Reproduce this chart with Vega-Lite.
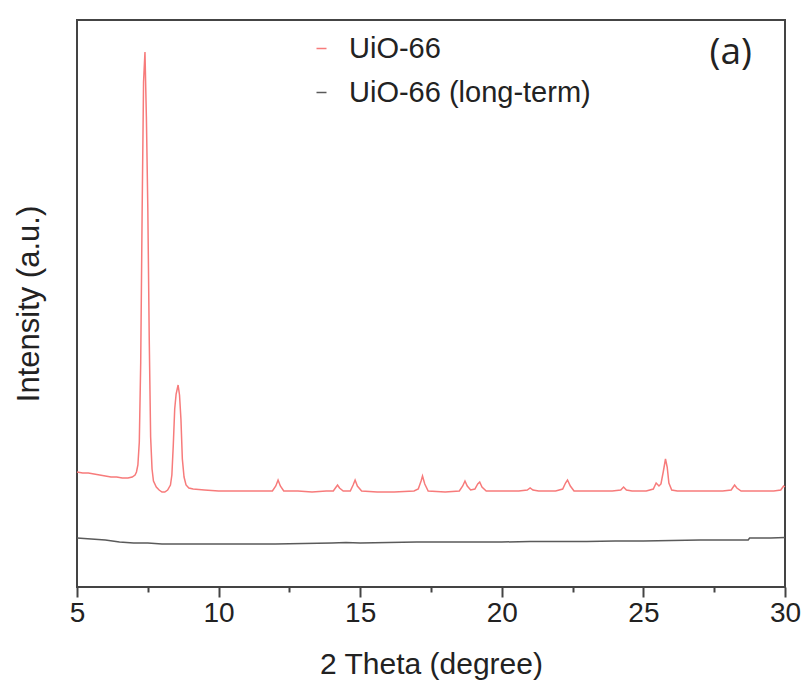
{
  "$schema": "https://vega.github.io/schema/vega-lite/v6.json",
  "width": 708,
  "height": 567,
  "autosize": {"type": "none"},
  "padding": {"left": 77, "top": 20, "right": 20, "bottom": 105},
  "background": "white",
  "title": {"text": "(a)", "anchor": "end", "orient": "top", "frame": "group", "offset": -52, "dx": -33, "font": "Open Sans", "fontSize": 37, "fontWeight": "normal", "color": "#222"},
  "config": {
    "view": {"stroke": "#444", "strokeWidth": 2},
    "axis": {"labelFont": "Liberation Sans", "titleFont": "Liberation Sans", "labelColor": "#222", "titleColor": "#222", "grid": false, "domainColor": "#444", "tickColor": "#444", "tickWidth": 2, "titleFontWeight": "normal"}
  },
  "data": {
    "values": [
      {"s": "UiO-66", "t": 5.0, "i": 115}, {"s": "UiO-66", "t": 5.2, "i": 114}, {"s": "UiO-66", "t": 5.4, "i": 114}, {"s": "UiO-66", "t": 5.6, "i": 113},
      {"s": "UiO-66", "t": 5.8, "i": 112}, {"s": "UiO-66", "t": 6.0, "i": 111}, {"s": "UiO-66", "t": 6.2, "i": 110}, {"s": "UiO-66", "t": 6.4, "i": 110},
      {"s": "UiO-66", "t": 6.6, "i": 109}, {"s": "UiO-66", "t": 6.8, "i": 109}, {"s": "UiO-66", "t": 6.95, "i": 110}, {"s": "UiO-66", "t": 7.05, "i": 112},
      {"s": "UiO-66", "t": 7.1, "i": 115}, {"s": "UiO-66", "t": 7.15, "i": 122}, {"s": "UiO-66", "t": 7.2, "i": 145}, {"s": "UiO-66", "t": 7.25, "i": 225},
      {"s": "UiO-66", "t": 7.3, "i": 375}, {"s": "UiO-66", "t": 7.35, "i": 505}, {"s": "UiO-66", "t": 7.4, "i": 535}, {"s": "UiO-66", "t": 7.45, "i": 470},
      {"s": "UiO-66", "t": 7.5, "i": 380}, {"s": "UiO-66", "t": 7.55, "i": 250}, {"s": "UiO-66", "t": 7.6, "i": 150}, {"s": "UiO-66", "t": 7.65, "i": 118},
      {"s": "UiO-66", "t": 7.7, "i": 106}, {"s": "UiO-66", "t": 7.8, "i": 100}, {"s": "UiO-66", "t": 7.9, "i": 97}, {"s": "UiO-66", "t": 8.0, "i": 95},
      {"s": "UiO-66", "t": 8.1, "i": 95}, {"s": "UiO-66", "t": 8.2, "i": 97}, {"s": "UiO-66", "t": 8.3, "i": 102}, {"s": "UiO-66", "t": 8.35, "i": 112},
      {"s": "UiO-66", "t": 8.4, "i": 142}, {"s": "UiO-66", "t": 8.45, "i": 178}, {"s": "UiO-66", "t": 8.5, "i": 193}, {"s": "UiO-66", "t": 8.57, "i": 202},
      {"s": "UiO-66", "t": 8.62, "i": 192}, {"s": "UiO-66", "t": 8.67, "i": 168}, {"s": "UiO-66", "t": 8.72, "i": 128}, {"s": "UiO-66", "t": 8.78, "i": 110},
      {"s": "UiO-66", "t": 8.85, "i": 102}, {"s": "UiO-66", "t": 8.95, "i": 99}, {"s": "UiO-66", "t": 9.1, "i": 98}, {"s": "UiO-66", "t": 9.5, "i": 97},
      {"s": "UiO-66", "t": 10.0, "i": 96}, {"s": "UiO-66", "t": 10.5, "i": 96}, {"s": "UiO-66", "t": 11.0, "i": 96}, {"s": "UiO-66", "t": 11.5, "i": 96},
      {"s": "UiO-66", "t": 11.9, "i": 96}, {"s": "UiO-66", "t": 12.02, "i": 101}, {"s": "UiO-66", "t": 12.1, "i": 107}, {"s": "UiO-66", "t": 12.18, "i": 101},
      {"s": "UiO-66", "t": 12.3, "i": 96}, {"s": "UiO-66", "t": 12.8, "i": 96}, {"s": "UiO-66", "t": 13.3, "i": 95}, {"s": "UiO-66", "t": 13.8, "i": 96},
      {"s": "UiO-66", "t": 14.05, "i": 96}, {"s": "UiO-66", "t": 14.15, "i": 100}, {"s": "UiO-66", "t": 14.2, "i": 102}, {"s": "UiO-66", "t": 14.27, "i": 99},
      {"s": "UiO-66", "t": 14.4, "i": 96}, {"s": "UiO-66", "t": 14.65, "i": 96}, {"s": "UiO-66", "t": 14.75, "i": 102}, {"s": "UiO-66", "t": 14.82, "i": 107},
      {"s": "UiO-66", "t": 14.9, "i": 101}, {"s": "UiO-66", "t": 15.05, "i": 96}, {"s": "UiO-66", "t": 15.6, "i": 95}, {"s": "UiO-66", "t": 16.2, "i": 95},
      {"s": "UiO-66", "t": 16.9, "i": 96}, {"s": "UiO-66", "t": 17.05, "i": 98}, {"s": "UiO-66", "t": 17.15, "i": 106}, {"s": "UiO-66", "t": 17.2, "i": 111},
      {"s": "UiO-66", "t": 17.28, "i": 103}, {"s": "UiO-66", "t": 17.4, "i": 96}, {"s": "UiO-66", "t": 18.0, "i": 95}, {"s": "UiO-66", "t": 18.5, "i": 96},
      {"s": "UiO-66", "t": 18.62, "i": 101}, {"s": "UiO-66", "t": 18.7, "i": 106}, {"s": "UiO-66", "t": 18.78, "i": 101}, {"s": "UiO-66", "t": 18.9, "i": 97},
      {"s": "UiO-66", "t": 19.05, "i": 98}, {"s": "UiO-66", "t": 19.15, "i": 103}, {"s": "UiO-66", "t": 19.22, "i": 105}, {"s": "UiO-66", "t": 19.3, "i": 100},
      {"s": "UiO-66", "t": 19.45, "i": 96}, {"s": "UiO-66", "t": 20.0, "i": 96}, {"s": "UiO-66", "t": 20.6, "i": 96}, {"s": "UiO-66", "t": 20.9, "i": 97},
      {"s": "UiO-66", "t": 21.0, "i": 99}, {"s": "UiO-66", "t": 21.1, "i": 97}, {"s": "UiO-66", "t": 21.3, "i": 96}, {"s": "UiO-66", "t": 21.9, "i": 96},
      {"s": "UiO-66", "t": 22.15, "i": 98}, {"s": "UiO-66", "t": 22.25, "i": 104}, {"s": "UiO-66", "t": 22.32, "i": 107}, {"s": "UiO-66", "t": 22.42, "i": 101},
      {"s": "UiO-66", "t": 22.55, "i": 96}, {"s": "UiO-66", "t": 23.2, "i": 96}, {"s": "UiO-66", "t": 23.9, "i": 96}, {"s": "UiO-66", "t": 24.2, "i": 97},
      {"s": "UiO-66", "t": 24.3, "i": 100}, {"s": "UiO-66", "t": 24.4, "i": 97}, {"s": "UiO-66", "t": 24.6, "i": 96}, {"s": "UiO-66", "t": 25.1, "i": 96},
      {"s": "UiO-66", "t": 25.35, "i": 98}, {"s": "UiO-66", "t": 25.45, "i": 104}, {"s": "UiO-66", "t": 25.55, "i": 101}, {"s": "UiO-66", "t": 25.62, "i": 103},
      {"s": "UiO-66", "t": 25.7, "i": 115}, {"s": "UiO-66", "t": 25.78, "i": 128}, {"s": "UiO-66", "t": 25.84, "i": 120}, {"s": "UiO-66", "t": 25.9, "i": 104},
      {"s": "UiO-66", "t": 26.0, "i": 97}, {"s": "UiO-66", "t": 26.2, "i": 96}, {"s": "UiO-66", "t": 27.0, "i": 96}, {"s": "UiO-66", "t": 27.8, "i": 96},
      {"s": "UiO-66", "t": 28.1, "i": 97}, {"s": "UiO-66", "t": 28.22, "i": 102}, {"s": "UiO-66", "t": 28.3, "i": 99}, {"s": "UiO-66", "t": 28.45, "i": 96},
      {"s": "UiO-66", "t": 29.0, "i": 96}, {"s": "UiO-66", "t": 29.6, "i": 96}, {"s": "UiO-66", "t": 29.85, "i": 97}, {"s": "UiO-66", "t": 29.95, "i": 101},
      {"s": "UiO-66", "t": 30.0, "i": 100},
      {"s": "UiO-66 (long-term)", "t": 5.0, "i": 49}, {"s": "UiO-66 (long-term)", "t": 5.5, "i": 48}, {"s": "UiO-66 (long-term)", "t": 6.0, "i": 47},
      {"s": "UiO-66 (long-term)", "t": 6.5, "i": 45}, {"s": "UiO-66 (long-term)", "t": 7.0, "i": 44}, {"s": "UiO-66 (long-term)", "t": 7.5, "i": 44},
      {"s": "UiO-66 (long-term)", "t": 8.0, "i": 43}, {"s": "UiO-66 (long-term)", "t": 9.0, "i": 43}, {"s": "UiO-66 (long-term)", "t": 10.0, "i": 43},
      {"s": "UiO-66 (long-term)", "t": 11.0, "i": 43}, {"s": "UiO-66 (long-term)", "t": 12.0, "i": 43}, {"s": "UiO-66 (long-term)", "t": 13.0, "i": 43.5},
      {"s": "UiO-66 (long-term)", "t": 14.0, "i": 44}, {"s": "UiO-66 (long-term)", "t": 14.5, "i": 44.5}, {"s": "UiO-66 (long-term)", "t": 15.0, "i": 44},
      {"s": "UiO-66 (long-term)", "t": 16.0, "i": 44.5}, {"s": "UiO-66 (long-term)", "t": 17.0, "i": 45}, {"s": "UiO-66 (long-term)", "t": 18.0, "i": 45},
      {"s": "UiO-66 (long-term)", "t": 19.0, "i": 45}, {"s": "UiO-66 (long-term)", "t": 20.0, "i": 45}, {"s": "UiO-66 (long-term)", "t": 21.0, "i": 45.5},
      {"s": "UiO-66 (long-term)", "t": 22.0, "i": 45.5}, {"s": "UiO-66 (long-term)", "t": 23.0, "i": 45.5}, {"s": "UiO-66 (long-term)", "t": 24.0, "i": 46},
      {"s": "UiO-66 (long-term)", "t": 25.0, "i": 46}, {"s": "UiO-66 (long-term)", "t": 26.0, "i": 46.5}, {"s": "UiO-66 (long-term)", "t": 27.0, "i": 47},
      {"s": "UiO-66 (long-term)", "t": 28.0, "i": 47}, {"s": "UiO-66 (long-term)", "t": 28.7, "i": 47}, {"s": "UiO-66 (long-term)", "t": 28.75, "i": 49},
      {"s": "UiO-66 (long-term)", "t": 29.5, "i": 49}, {"s": "UiO-66 (long-term)", "t": 30.0, "i": 49.5}
    ]
  },
  "mark": {"type": "line", "strokeWidth": 1.5},
  "encoding": {
    "x": {"field": "t", "type": "quantitative", "scale": {"domain": [5, 30], "nice": false, "zero": false},
          "axis": {"values": [5, 7.5, 10, 12.5, 15, 17.5, 20, 22.5, 25, 27.5, 30],
                   "tickSize": {"condition": {"test": "datum.value % 5 === 0", "value": 10}, "value": 5},
                   "labelExpr": "datum.value % 5 === 0 ? datum.label : ''",
                   "labelAlign": "center", "labelFontSize": 28,
                   "title": "2 Theta (degree)", "titleFontSize": 30, "titlePadding": 22}},
    "y": {"field": "i", "type": "quantitative", "scale": {"domain": [0, 567], "nice": false},
          "axis": {"title": "Intensity (a.u.)", "titleFontSize": 31, "labels": false, "ticks": false, "titlePadding": 32}},
    "color": {"field": "s", "type": "nominal",
              "scale": {"domain": ["UiO-66", "UiO-66 (long-term)"], "range": ["#f77b7b", "#5a5a5a"]},
              "legend": {"title": null, "orient": "none", "legendX": 230, "legendY": 14, "symbolType": "stroke", "symbolStrokeWidth": 1.5, "labelFontSize": 29, "labelFont": "Liberation Sans", "labelColor": "#222", "labelOffset": 13, "labelLimit": 500, "rowPadding": 14}}
  }
}
